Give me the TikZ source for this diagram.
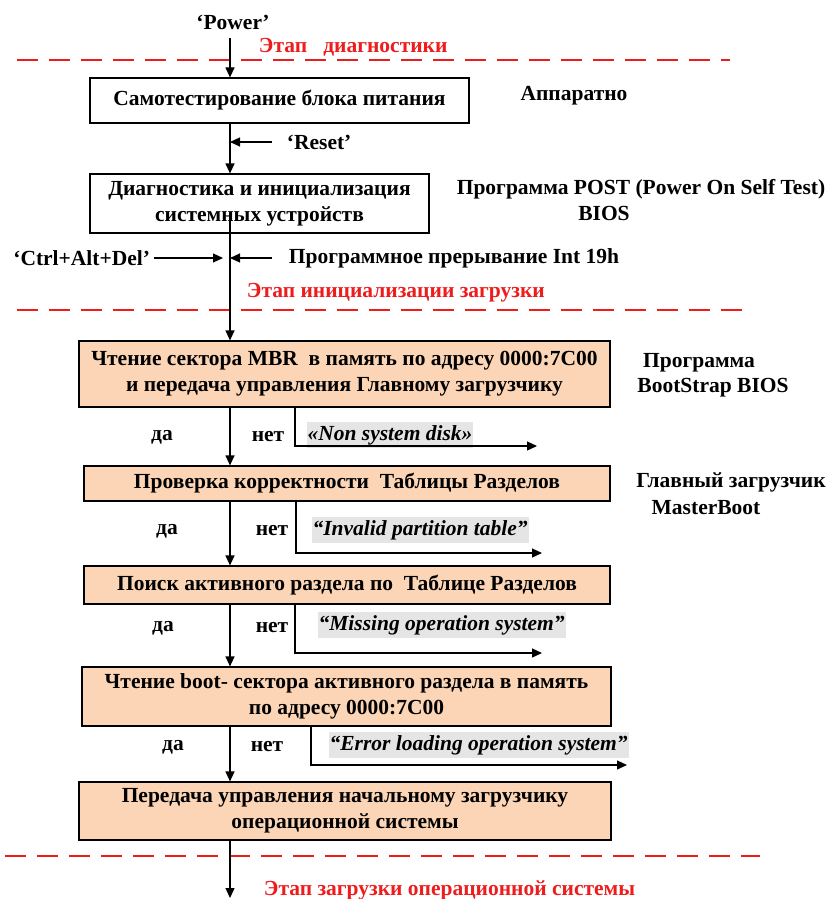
\documentclass[tikz,border=0pt]{standalone}
\usepackage{fontspec}
\setmainfont{Liberation Serif}
\usetikzlibrary{shapes,arrows,arrows.meta,positioning}
\definecolor{peach}{RGB}{251,213,181}
\definecolor{msggray}{RGB}{229,229,229}
\definecolor{stagered}{RGB}{238,28,28}

\begin{document}
\begin{tikzpicture}[->, >={Triangle[length=10pt,width=9pt]}, x=1pt, y=-1pt, line width=1.2pt,
    font=\bfseries\fontsize{21.5}{26}\selectfont]
        \tikzstyle{hw}=[draw=black,fill=white,rectangle,inner sep=0pt,align=center]
        \tikzstyle{boot}=[draw=black,fill=peach,rectangle,inner sep=0pt,align=center]
        \tikzstyle{msg}=[fill=msggray,anchor=west,inner xsep=1pt,minimum height=24pt,
            font=\bfseries\itshape\fontsize{21.5}{24}\selectfont]
        \tikzstyle{phase}=[text=stagered,anchor=west]
        \tikzstyle{phaseline}=[-,draw=stagered,line width=2.8pt,dash pattern=on 21pt off 11pt]
        \useasboundingbox (0,0) rectangle (830,899);
        \coordinate (spine) at (230,0);

        % boxes
        \node[hw, minimum width=379pt, minimum height=45pt] (A) at (279.5,100.5)
            {Самотестирование блока питания};
        \node[hw, minimum width=339pt, minimum height=59pt] (B) at (259.5,203.5)
            {Диагностика и инициализация\\системных устройств};
        \node[boot, minimum width=531pt, minimum height=66pt] (C) at (344.5,374)
            {Чтение сектора MBR\ \ в память по адресу 0000:7C00\\и передача управления Главному загрузчику};
        \node[boot, minimum width=526pt, minimum height=35pt] (D) at (347,483.5)
            {Проверка корректности\ \ Таблицы Разделов};
        \node[boot, minimum width=526pt, minimum height=38pt] (E) at (347,585)
            {Поиск активного раздела по\ \ Таблице Разделов};
        \node[boot, minimum width=529pt, minimum height=59pt] (F) at (346.5,696.5)
            {Чтение boot- сектора активного раздела в память\\по адресу 0000:7C00};
        \node[boot, minimum width=532pt, minimum height=58pt] (G) at (345,811)
            {Передача управления начальному загрузчику\\операционной системы};

        % phases
        \node[phase] (ph1) at (255,47) {Этап\ \ \ диагностики};
        \node[phase] (ph2) at (243,293) {Этап инициализации загрузки};
        \node[phase] (ph3) at (260,890) {Этап загрузки операционной системы};
        \draw[phaseline] (17,60) -- (730,60);
        \draw[phaseline] (17,310) -- (743,310);
        \draw[phaseline] (5,856) -- (760,856);

        % side notes
        \node (hw1) at (574,96) {Аппаратно};
        \node (post1) at (641,189) {Программа POST (Power On Self Test)};
        \node (post2) at (604,213) {BIOS};
        \node (bs1) at (699,363) {Программа};
        \node (bs2) at (713,388) {BootStrap BIOS};
        \node (mb1) at (731,482) {Главный загрузчик};
        \node (mb2) at (706,508) {MasterBoot};

        % signals
        \node (P) at (233,22) {‘Power’};
        \node[anchor=west] (R) at (283,142) {‘Reset’};
        \node[anchor=east] (K) at (154,258) {‘Ctrl+Alt+Del’};
        \node[anchor=west] (I) at (285,258) {Программное прерывание Int 19h};
        \draw ([yshift=-16pt]P.center -| spine) -- (A.north -| spine);
        \draw (A.south -| spine) -- (B.north -| spine);
        \draw ([xshift=-11pt]R.west) -- (R.west -| spine);
        \draw (K.east) -- ([xshift=-7pt]K.east -| spine);
        \draw ([xshift=-13pt]I.west) -- (I.west -| spine);
        \draw ([yshift=13pt]B.south -| spine) -- (C.north -| spine);

        % yes / no
        \draw (C.south -| spine) -- (D.north -| spine);
        \draw (D.south -| spine) -- (E.north -| spine);
        \draw (E.south -| spine) -- (F.north -| spine);
        \draw (F.south -| spine) -- (G.north -| spine);
        \coordinate (end) at (230,898);
        \draw (G.south -| spine) -- (end);

        \node (y1) at (162,437) {да};   \node (n1) at (268,437) {нет};
        \node (y2) at (167,531) {да};   \node (n2) at (272,531) {нет};
        \node (y3) at (163,628) {да};   \node (n3) at (272,628) {нет};
        \node (y4) at (173,747) {да};   \node (n4) at (267,747) {нет};

        \node[msg] (M1) at (306,435) {«Non system disk»};
        \node[msg] (M2) at (311,530) {“Invalid partition table”};
        \node[msg] (M3) at (317,625) {“Missing operation system”};
        \node[msg] (M4) at (328,745) {“Error loading operation system”};
        \coordinate (e1) at (537,446);
        \coordinate (e2) at (542,553);
        \coordinate (e3) at (542,653);
        \coordinate (e4) at (627,765);
        \draw (C.south -| 295,0) |- (e1);
        \draw (D.south -| 296,0) |- (e2);
        \draw (E.south -| 295,0) |- (e3);
        \draw (F.south -| 311,0) |- (e4);
    \end{tikzpicture}
\end{document}
